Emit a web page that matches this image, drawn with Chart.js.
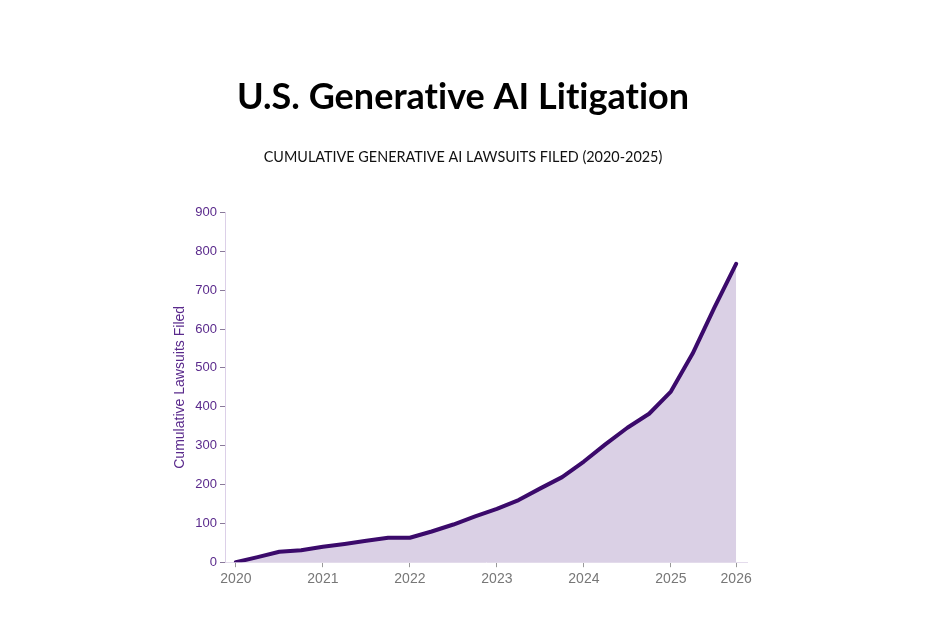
<!DOCTYPE html>
<html>
<head>
<meta charset="utf-8">
<script src="https://cdn.jsdelivr.net/npm/chart.js@4.4.0/dist/chart.umd.min.js"></script>
<style>
  html, body { margin: 0; padding: 0; background: #fff; }
  #wrap { width: 951px; height: 635px; }
</style>
</head>
<body>
<div id="wrap"><canvas id="myChart"></canvas></div>
<script>
// quarters as decimal years, cumulative filings
const quarters = [
  2020.00, 2020.25, 2020.50, 2020.75,
  2021.00, 2021.25, 2021.50, 2021.75,
  2022.00, 2022.25, 2022.50, 2022.75,
  2023.00, 2023.25, 2023.50, 2023.75,
  2024.00, 2024.25, 2024.50, 2024.75,
  2025.00, 2025.25, 2025.50, 2025.75
];
const lawsuits = [
  0, 13, 27, 31,
  40, 47, 55, 63,
  63, 79, 97, 118,
  137, 160, 190, 219,
  259, 304, 346, 382,
  439, 537, 655, 768
];
const xTickValues = [2020, 2021, 2022, 2023, 2024, 2025, 2025.75];
const xTickLabels = ['2020', '2021', '2022', '2023', '2024', '2025', '2026'];

const PURPLE = '#3b0a6b';
const LABEL_PURPLE = '#5a2a8c';

const points = quarters.map((q, i) => ({x: q, y: lawsuits[i]}));

// tiny letter spacing keeps Lato from joining "ti" into a ligature
const noLigatures = {
  id: 'noLigatures',
  beforeDraw(chart) {
    chart.ctx.letterSpacing = '0.01px';
  }
};

const config = {
  type: 'line',
  data: {
    datasets: [{
      label: 'Cumulative lawsuits',
      data: points,
      borderColor: PURPLE,
      borderWidth: 4,
      backgroundColor: 'rgba(120, 80, 160, 0.27)',
      fill: 'origin',
      tension: 0,
      pointRadius: 0,
      borderCapStyle: 'round',
      borderJoinStyle: 'round'
    }]
  },
  options: {
    responsive: true,
    maintainAspectRatio: false,
    animation: false,
    layout: {
      padding: {left: 179, right: 204, top: 76, bottom: 43}
    },
    plugins: {
      legend: {display: false},
      tooltip: {enabled: false},
      title: {
        display: true,
        text: 'U.S. Generative AI Litigation',
        color: '#000',
        font: {family: 'Lato', size: 36, weight: 'bold'},
        padding: {top: 0, bottom: 30}
      },
      subtitle: {
        display: true,
        text: 'CUMULATIVE GENERATIVE AI LAWSUITS FILED (2020-2025)',
        color: '#111',
        font: {family: 'Lato', size: 14.4},
        padding: {top: 0, bottom: 46}
      }
    },
    scales: {
      x: {
        type: 'linear',
        min: 2019.875,
        max: 2025.875,
        afterBuildTicks: (scale) => {
          scale.ticks = xTickValues.map(v => ({value: v}));
        },
        ticks: {
          color: '#777',
          font: {family: 'Liberation Sans', size: 14},
          padding: 4,
          callback: (value) => xTickLabels[xTickValues.indexOf(value)]
        },
        grid: {
          drawOnChartArea: false,
          tickLength: 5,
          color: '#999'
        },
        border: {color: '#e4dcec', width: 1}
      },
      y: {
        min: 0,
        max: 900,
        afterFit: (scale) => { scale.width = 46; },
        ticks: {
          stepSize: 100,
          color: LABEL_PURPLE,
          font: {family: 'Liberation Sans', size: 13},
          padding: 3
        },
        grid: {
          drawOnChartArea: false,
          tickLength: 5,
          color: '#8a7a9a'
        },
        border: {color: '#dcd0e8', width: 1},
        title: {
          display: true,
          text: 'Cumulative Lawsuits Filed',
          color: LABEL_PURPLE,
          font: {family: 'Liberation Sans', size: 14},
          padding: {top: -7, bottom: 0}
        }
      }
    }
  },
  plugins: [noLigatures]
};

const ctx = document.getElementById('myChart').getContext('2d');
const chart = new Chart(ctx, config);
</script>
</body>
</html>
